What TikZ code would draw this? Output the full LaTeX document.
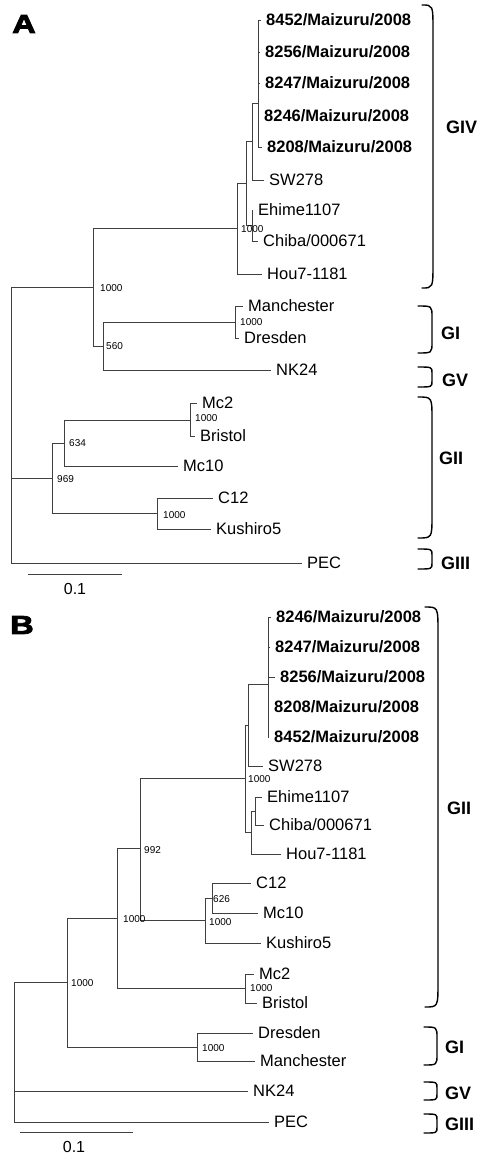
\documentclass[tikz,border=0pt]{standalone}
\usepackage{fontspec}
\setmainfont{Liberation Sans}
\newfontfamily\panelfont[FakeBold=3]{Liberation Sans}

% right-hand clade bracket: x left, x right, top, bottom, bend
\newcommand{\cladebrace}[5]{%
  \draw[brace line] (#1,#3) .. controls (#2,#3) .. (#2,#3+#5) -- (#2,#4-#5) .. controls (#2,#4) .. (#1,#4);
}

\begin{document}
\begin{tikzpicture}[
    x=1pt, y=-1pt,
    branch/.style={draw=black!75, line width=0.9pt},
    leaf/.style={anchor=west, inner xsep=5pt, inner ysep=0pt, text height=11.8pt, text depth=0pt, font=\fontsize{16.5}{18}\selectfont},
    strain/.style={leaf, font=\fontsize{16.5}{18}\selectfont\bfseries},
    boot/.style={anchor=west, inner sep=0pt, font=\fontsize{10}{11}\selectfont},
    group/.style={anchor=west, inner sep=0pt, font=\fontsize{18}{20}\selectfont\bfseries},
    scale label/.style={inner sep=0pt, font=\fontsize{16}{18}\selectfont},
    panel/.style={inner sep=0pt, font=\fontsize{26}{28}\panelfont\bfseries},
    brace line/.style={line width=1.4pt, line cap=round}
]
    \useasboundingbox (0,0) rectangle (480,1165);

    %%%%% Panel A
    \node[panel] (pA) at (24,24) {\scalebox{1.25}[1]{A}};

    % Leaves
    \node[strain] (a8452) at (261,20) {8452/Maizuru/2008};
    \node[strain] (a8256) at (260,52) {8256/Maizuru/2008};
    \node[strain] (a8247) at (260,83) {8247/Maizuru/2008};
    \node[strain] (a8246) at (259,116) {8246/Maizuru/2008};
    \node[strain] (a8208) at (262,147) {8208/Maizuru/2008};
    \node[leaf] (aSW) at (264,180) {SW278};
    \node[leaf] (aEhime) at (253,210) {Ehime1107};
    \node[leaf] (aChiba) at (258,241) {Chiba/000671};
    \node[leaf] (aHou) at (262,274) {Hou7-1181};
    \node[leaf] (aManch) at (243,306) {Manchester};
    \node[leaf] (aDres) at (239,338) {Dresden};
    \node[leaf] (aNK) at (271,370) {NK24};
    \node[leaf] (aMc2) at (197,403) {Mc2};
    \node[leaf] (aBris) at (195,436) {Bristol};
    \node[leaf] (aMc10) at (178,466) {Mc10};
    \node[leaf] (aC12) at (213,498) {C12};
    \node[leaf] (aKush) at (211,529) {Kushiro5};
    \node[leaf] (aPEC) at (302,563) {PEC};

    % Inner nodes
    \coordinate (aBold) at (258,103);
    \coordinate (aN3) at (252,141);
    \coordinate (aEC) at (252,225);
    \coordinate (aN2) at (246,183);
    \coordinate (aN1) at (237,228);
    \coordinate (aMD) at (235,322);
    \coordinate (a560) at (103,346);
    \coordinate (aN0) at (93,287);
    \coordinate (aMB) at (190,420);
    \coordinate (a634) at (64,443);
    \coordinate (aCK) at (157,513);
    \coordinate (a969) at (52,478);
    \coordinate (aRoot) at (11,478);

    % Branches
    \draw[branch] (aRoot) |- (aN0);
    \draw[branch] (aRoot) -- (a969);
    \draw[branch] (aRoot) |- (aPEC.west);
    \draw[branch] (aN0) |- (aN1);
    \draw[branch] (aN0) |- (a560);
    \draw[branch] (aN1) |- (aN2);
    \draw[branch] (aN1) |- (aHou.west);
    \draw[branch] (aN2) |- (aN3);
    \draw[branch] (aN2) |- (aEC);
    \draw[branch] (aN3) |- (aBold);
    \draw[branch] (aN3) |- (aSW.west);
    \foreach \s in {8452,8256,8247,8246,8208}
        \draw[branch] (aBold) |- (a\s.west);
    \draw[branch] (aEC) |- (aEhime.west);
    \draw[branch] (aEC) |- (aChiba.west);
    \draw[branch] (a560) |- (aMD);
    \draw[branch] (a560) |- (aNK.west);
    \draw[branch] (aMD) |- (aManch.west);
    \draw[branch] (aMD) |- (aDres.west);
    \draw[branch] (a969) |- (a634);
    \draw[branch] (a969) |- (aCK);
    \draw[branch] (a634) |- (aMB);
    \draw[branch] (a634) |- (aMc10.west);
    \draw[branch] (aMB) |- (aMc2.west);
    \draw[branch] (aMB) |- (aBris.west);
    \draw[branch] (aCK) |- (aC12.west);
    \draw[branch] (aCK) |- (aKush.west);

    % Bootstrap values
    \node[boot] (aB1) at (241,229) {1000};
    \node[boot] (aB2) at (100,288) {1000};
    \node[boot] (aB3) at (240,322) {1000};
    \node[boot] (aB4) at (106,346) {560};
    \node[boot] (aB5) at (195,418) {1000};
    \node[boot] (aB6) at (69,443) {634};
    \node[boot] (aB7) at (57,479) {969};
    \node[boot] (aB8) at (163,515) {1000};

    % Scale
    \coordinate (aS0) at (28,574);
    \coordinate (aS1) at (122,574);
    \draw[branch] (aS0) -- (aS1);
    \node[scale label] (aScale) at (75,589) {0.1};

    % Genogroups
    \cladebrace{422}{433}{5}{288}{25}
    \cladebrace{418}{432}{306}{353}{11}
    \cladebrace{418}{432}{367}{387}{6}
    \cladebrace{418}{432}{397}{538}{22}
    \cladebrace{418}{432}{549}{569}{6}
    \node[group] (aGIV) at (446,127) {GIV};
    \node[group] (aGI) at (441,333) {GI};
    \node[group] (aGV) at (442,380) {GV};
    \node[group] (aGII) at (439,458) {GII};
    \node[group] (aGIII) at (441,563) {GIII};

    %%%%% Panel B
    \node[panel] (pB) at (22,625) {\scalebox{1.25}[1]{B}};

    % Leaves
    \node[strain] (b8246) at (271,617) {8246/Maizuru/2008};
    \node[strain] (b8247) at (270,647) {8247/Maizuru/2008};
    \node[strain] (b8256) at (275,677) {8256/Maizuru/2008};
    \node[strain] (b8208) at (269,707) {8208/Maizuru/2008};
    \node[strain] (b8452) at (269,737) {8452/Maizuru/2008};
    \node[leaf] (bSW) at (263,766) {SW278};
    \node[leaf] (bEhime) at (262,797) {Ehime1107};
    \node[leaf] (bChiba) at (264,825) {Chiba/000671};
    \node[leaf] (bHou) at (281,854) {Hou7-1181};
    \node[leaf] (bC12) at (251,883) {C12};
    \node[leaf] (bMc10) at (258,913) {Mc10};
    \node[leaf] (bKush) at (261,943) {Kushiro5};
    \node[leaf] (bMc2) at (254,974) {Mc2};
    \node[leaf] (bBris) at (257,1003) {Bristol};
    \node[leaf] (bDres) at (253,1033) {Dresden};
    \node[leaf] (bManch) at (255,1061) {Manchester};
    \node[leaf] (bNK) at (248,1091) {NK24};
    \node[leaf] (bPEC) at (269,1122) {PEC};

    % Inner nodes
    \coordinate (bBold) at (268,684);
    \coordinate (bN3) at (248,725);
    \coordinate (bEC) at (255,811);
    \coordinate (bEH) at (251,832);
    \coordinate (bN2) at (245,778);
    \coordinate (bCM) at (212,898);
    \coordinate (bCMK) at (205,920);
    \coordinate (b992) at (140,848);
    \coordinate (bMB) at (245,988);
    \coordinate (bN1) at (117,918);
    \coordinate (bDM) at (197,1047);
    \coordinate (bN0) at (67,982);
    \coordinate (bRoot) at (14,982);

    % Branches
    \draw[branch] (bRoot) -- (bN0);
    \draw[branch] (bRoot) |- (bNK.west);
    \draw[branch] (bRoot) |- (bPEC.west);
    \draw[branch] (bN0) |- (bN1);
    \draw[branch] (bN0) |- (bDM);
    \draw[branch] (bN1) |- (b992);
    \draw[branch] (bN1) |- (bMB);
    \draw[branch] (b992) |- (bN2);
    \draw[branch] (b992) |- (bCMK);
    \draw[branch] (bN2) |- (bN3);
    \draw[branch] (bN2) |- (bEH);
    \draw[branch] (bN3) |- (bBold);
    \draw[branch] (bN3) |- (bSW.west);
    \foreach \s in {8246,8247,8256,8208,8452}
        \draw[branch] (bBold) |- (b\s.west);
    \draw[branch] (bEH) |- (bEC);
    \draw[branch] (bEH) |- (bHou.west);
    \draw[branch] (bEC) |- (bEhime.west);
    \draw[branch] (bEC) |- (bChiba.west);
    \draw[branch] (bCMK) |- (bCM);
    \draw[branch] (bCMK) |- (bKush.west);
    \draw[branch] (bCM) |- (bC12.west);
    \draw[branch] (bCM) |- (bMc10.west);
    \draw[branch] (bMB) |- (bMc2.west);
    \draw[branch] (bMB) |- (bBris.west);
    \draw[branch] (bDM) |- (bDres.west);
    \draw[branch] (bDM) |- (bManch.west);

    % Bootstrap values
    \node[boot] (bB1) at (248,779) {1000};
    \node[boot] (bB2) at (144,850) {992};
    \node[boot] (bB3) at (213,899) {626};
    \node[boot] (bB4) at (209,922) {1000};
    \node[boot] (bB5) at (123,919) {1000};
    \node[boot] (bB6) at (250,988) {1000};
    \node[boot] (bB7) at (71,983) {1000};
    \node[boot] (bB8) at (202,1048) {1000};

    % Scale
    \coordinate (bS0) at (20,1132);
    \coordinate (bS1) at (133,1132);
    \draw[branch] (bS0) -- (bS1);
    \node[scale label] (bScale) at (74,1147) {0.1};

    % Genogroups
    \cladebrace{425}{438}{607}{1007}{25}
    \cladebrace{424}{437}{1027}{1065}{11}
    \cladebrace{424}{437}{1082}{1100}{6}
    \cladebrace{424}{437}{1114}{1133}{6}
    \node[group] (bGII) at (447,808) {GII};
    \node[group] (bGI) at (445,1047) {GI};
    \node[group] (bGV) at (445,1093) {GV};
    \node[group] (bGIII) at (445,1124) {GIII};
\end{tikzpicture}
\end{document}
